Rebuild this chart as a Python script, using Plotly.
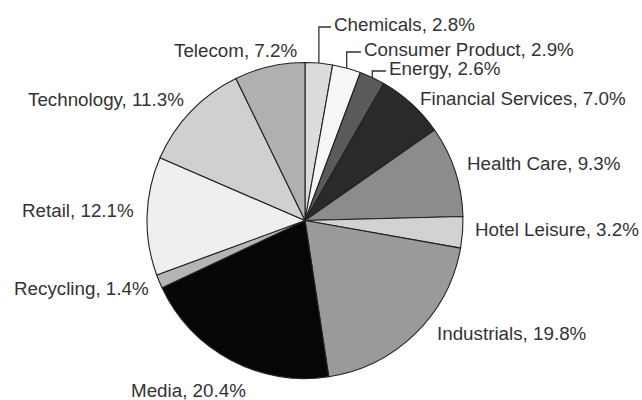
import math
import plotly.graph_objects as go

sectors = ["Chemicals", "Consumer Product", "Energy", "Financial Services",
           "Health Care", "Hotel Leisure", "Industrials", "Media",
           "Recycling", "Retail", "Technology", "Telecom"]
shares = [2.8, 2.9, 2.6, 7.0, 9.3, 3.2, 19.8, 20.4, 1.4, 12.1, 11.3, 7.2]
fills = ["#dcdcdc", "#f6f6f6", "#5a5a5a", "#2a2a2a", "#8c8c8c", "#d2d2d2",
         "#9a9a9a", "#060606", "#b5b5b5", "#efefef", "#d0d0d0", "#b0b0b0"]

W, H = 642, 400
CX, CY, R = 305, 220.5, 158  # pixel centre/radius of the pie

# label anchor positions in pixels (x, y, xanchor)
label_pos = {
    "Chemicals": (332, 24, "left"),
    "Consumer Product": (362, 49, "left"),
    "Energy": (387, 68, "left"),
    "Financial Services": (418, 98, "left"),
    "Health Care": (465, 164, "left"),
    "Hotel Leisure": (473, 230, "left"),
    "Industrials": (435, 333, "left"),
    "Media": (129, 390, "left"),
    "Recycling": (151, 288, "right"),
    "Retail": (136, 210, "right"),
    "Technology": (186, 99, "right"),
    "Telecom": (299, 50, "right"),
}
# slices whose labels get bracket leader lines
leader = {"Chemicals", "Consumer Product", "Energy"}


def px(x):
    return x / W


def py(y):
    return 1 - y / H


fig = go.Figure(go.Pie(
    labels=sectors, values=shares, sort=False, direction="clockwise",
    rotation=0, marker=dict(colors=fills, line=dict(color="#222222", width=1.1)),
    textinfo="none", hoverinfo="label+percent", showlegend=False,
    domain=dict(x=[px(CX - R), px(CX + R)], y=[py(CY + R), py(CY - R)]),
))

annotations = []
shapes = []
total = sum(shares)
cum = 0.0
for name, v in zip(sectors, shares):
    mid = (cum + v / 2) / total * 2 * math.pi
    cum += v
    lx, ly, anchor = label_pos[name]
    annotations.append(dict(
        x=px(lx), y=py(ly), xref="paper", yref="paper", xanchor=anchor,
        yanchor="middle", showarrow=False, text=f"{name}, {v:.1f}%",
        font=dict(family="Liberation Sans, Arial", size=18.8, color="#333333"),
    ))
    if name in leader:
        ex = CX + R * math.sin(mid)
        ey = CY - R * math.cos(mid)
        top = ly + 3
        path = (f"M {px(ex)},{py(ey)} L {px(ex)},{py(top)} "
                f"L {px(lx - 1)},{py(top)}")
        shapes.append(dict(type="path", xref="paper", yref="paper", path=path,
                           line=dict(color="#333333", width=1.3)))

fig.update_layout(
    width=W, height=H, margin=dict(l=0, r=0, t=0, b=0),
    paper_bgcolor="white", plot_bgcolor="white",
    annotations=annotations, shapes=shapes,
)
fig.write_html("out.html", config={"displayModeBar": False},
               post_script="document.body.style.margin='0';")
